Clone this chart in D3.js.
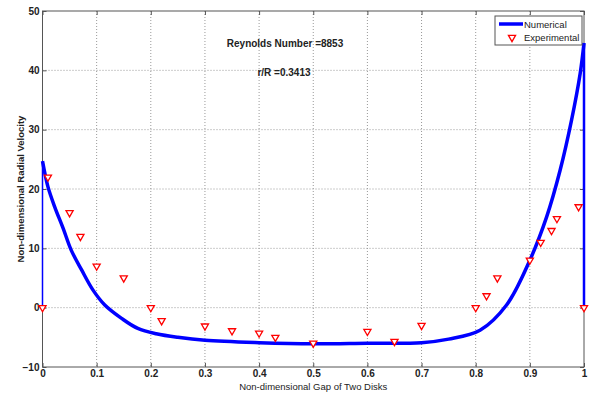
<!DOCTYPE html>
<html>
<head>
<meta charset="utf-8">
<script src="https://cdn.jsdelivr.net/npm/d3@7"></script>
<style>
  body { margin: 0; background: #fff; }
  svg { display: block; font-family: "Liberation Sans", Arial, sans-serif; }
</style>
</head>
<body>
<svg width="590" height="394"></svg>
<script>
// numerical solution
var numX = [0, 0, 0.01, 0.0225, 0.038, 0.053, 0.072, 0.093, 0.115, 0.146, 0.176, 0.21, 0.25, 0.3, 0.4, 0.5, 0.6, 0.7, 0.75, 0.808, 0.857, 0.9, 0.931, 0.956, 0.977, 0.993, 1, 1];
var numY = [0, 24.7, 20.4, 17.0, 13.4, 9.7, 6.4, 3.0, 0.45, -1.8, -3.5, -4.4, -5.0, -5.5, -5.9, -6.1, -6.0, -5.9, -5.3, -3.8, 0.45, 8.0, 15.3, 23.2, 31.6, 39.5, 44.6, 0];

// experimental points
var expX = [0, 0.01, 0.05, 0.07, 0.1, 0.15, 0.2, 0.22, 0.3, 0.35, 0.4, 0.43, 0.5, 0.6, 0.65, 0.7, 0.8, 0.82, 0.84, 0.9, 0.92, 0.94, 0.95, 0.99, 1];
var expY = [0, 22, 16, 12, 7, 5, 0, -2.2, -3.1, -3.9, -4.3, -5, -6, -4, -5.7, -3, 0, 2, 5, 8, 11, 13, 15, 17, 0];

var xTicks = [0, 0.1, 0.2, 0.3, 0.4, 0.5, 0.6, 0.7, 0.8, 0.9, 1];
var yTicks = [-10, 0, 10, 20, 30, 40, 50];

var svg = d3.select("svg");
var margins = { top: 11, bottom: 27, left: 42.5, right: 6 };
var svgWidth = +svg.attr("width");
var svgHeight = +svg.attr("height");
var chartWidth = svgWidth - margins.left - margins.right;
var chartHeight = svgHeight - margins.top - margins.bottom;

var xScale = d3.scaleLinear().domain([0, 1]).range([0, chartWidth]);
var yScale = d3.scaleLinear().domain([-10, 50]).range([chartHeight, 0]);

var g = svg.append("g").attr("transform", `translate(${margins.left},${margins.top})`);

// grid
g.append("g").selectAll("line").data(xTicks.slice(1, -1)).join("line")
  .attr("x1", d => xScale(d)).attr("x2", d => xScale(d))
  .attr("y1", 0).attr("y2", chartHeight)
  .attr("stroke", "#999").attr("stroke-width", 1).attr("stroke-dasharray", "1,2");
g.append("g").selectAll("line").data(yTicks.slice(1, -1)).join("line")
  .attr("y1", d => yScale(d)).attr("y2", d => yScale(d))
  .attr("x1", 0).attr("x2", chartWidth)
  .attr("stroke", "#999").attr("stroke-width", 1).attr("stroke-dasharray", "1,2");

// axes (ticks inward, mirrored)
var axisStyle = function (sel) {
  sel.select(".domain").remove();
  sel.selectAll("line").attr("stroke", "#555");
  sel.selectAll("text").attr("font-size", 10).attr("font-weight", "bold").attr("fill", "#222");
};
g.append("g").attr("transform", `translate(0,${chartHeight})`)
  .call(d3.axisBottom(xScale).tickValues(xTicks).tickFormat(d3.format("~g")).tickSizeInner(-4).tickPadding(3))
  .call(axisStyle);
g.append("g")
  .call(d3.axisTop(xScale).tickValues(xTicks).tickFormat("").tickSizeInner(-4))
  .call(axisStyle);
g.append("g")
  .call(d3.axisLeft(yScale).tickValues(yTicks).tickSizeInner(-4).tickPadding(3))
  .call(axisStyle);
g.append("g").attr("transform", `translate(${chartWidth},0)`)
  .call(d3.axisRight(yScale).tickValues(yTicks).tickFormat("").tickSizeInner(-4))
  .call(axisStyle);

g.append("rect").attr("width", chartWidth).attr("height", chartHeight)
  .attr("fill", "none").attr("stroke", "#555").attr("stroke-width", 1);

// numerical curve
var straight = d3.line().x(d => xScale(d[0])).y(d => yScale(d[1]));
var smooth = d3.line().x(d => xScale(d[0])).y(d => yScale(d[1])).curve(d3.curveCatmullRom.alpha(0.5));
var numData = d3.zip(numX, numY);
g.append("path").datum(numData.slice(0, 2))
  .attr("d", straight)
  .attr("fill", "none").attr("stroke", "#0000ff").attr("stroke-width", 1.5);
g.append("path").datum(numData.slice(1, -1))
  .attr("d", smooth)
  .attr("fill", "none").attr("stroke", "#0000ff").attr("stroke-width", 3.5).attr("stroke-linejoin", "round");
g.append("path").datum(numData.slice(-2))
  .attr("d", straight)
  .attr("fill", "none").attr("stroke", "#0000ff").attr("stroke-width", 2.5);

// experimental markers
var tri = d3.symbol().type(d3.symbolTriangle).size(22);
g.append("g").selectAll("path").data(d3.zip(expX, expY)).join("path")
  .attr("d", tri)
  .attr("transform", d => `translate(${xScale(d[0])},${yScale(d[1])}) rotate(180)`)
  .attr("fill", "#fff").attr("stroke", "#ff0000").attr("stroke-width", 1.3);

// annotations
g.append("text").attr("x", 285 - margins.left).attr("y", 47 - margins.top)
  .attr("text-anchor", "middle").attr("font-size", 10).attr("font-weight", "bold").attr("fill", "#222")
  .text("Reynolds Number =8853");
g.append("text").attr("x", 284 - margins.left).attr("y", 75.5 - margins.top)
  .attr("text-anchor", "middle").attr("font-size", 10).attr("font-weight", "bold").attr("fill", "#222")
  .text("r/R =0.3413");

// axis labels
svg.append("text").attr("x", margins.left + chartWidth / 2).attr("y", 390)
  .attr("text-anchor", "middle").attr("font-size", 9.5).attr("fill", "#222")
  .text("Non-dimensional Gap of Two Disks");
svg.append("text").attr("transform", `translate(24,${margins.top + chartHeight / 2}) rotate(-90)`)
  .attr("text-anchor", "middle").attr("font-size", 9.5).attr("font-weight", "bold").attr("fill", "#222")
  .text("Non-dimensional Radial Velocity");

// legend
var lg = svg.append("g").attr("transform", "translate(495,16)");
lg.append("rect").attr("width", 87).attr("height", 29).attr("fill", "#fff").attr("stroke", "#555");
lg.append("line").attr("x1", 4).attr("x2", 28).attr("y1", 8).attr("y2", 8)
  .attr("stroke", "#0000ff").attr("stroke-width", 3.5);
lg.append("text").attr("x", 29).attr("y", 11.5).attr("font-size", 9.5).attr("fill", "#222").text("Numerical");
lg.append("path").attr("d", tri).attr("transform", "translate(17,21.5) rotate(180)")
  .attr("fill", "#fff").attr("stroke", "#ff0000").attr("stroke-width", 1.3);
lg.append("text").attr("x", 29).attr("y", 25).attr("font-size", 9.5).attr("fill", "#222").text("Experimental");
</script>
</body>
</html>
